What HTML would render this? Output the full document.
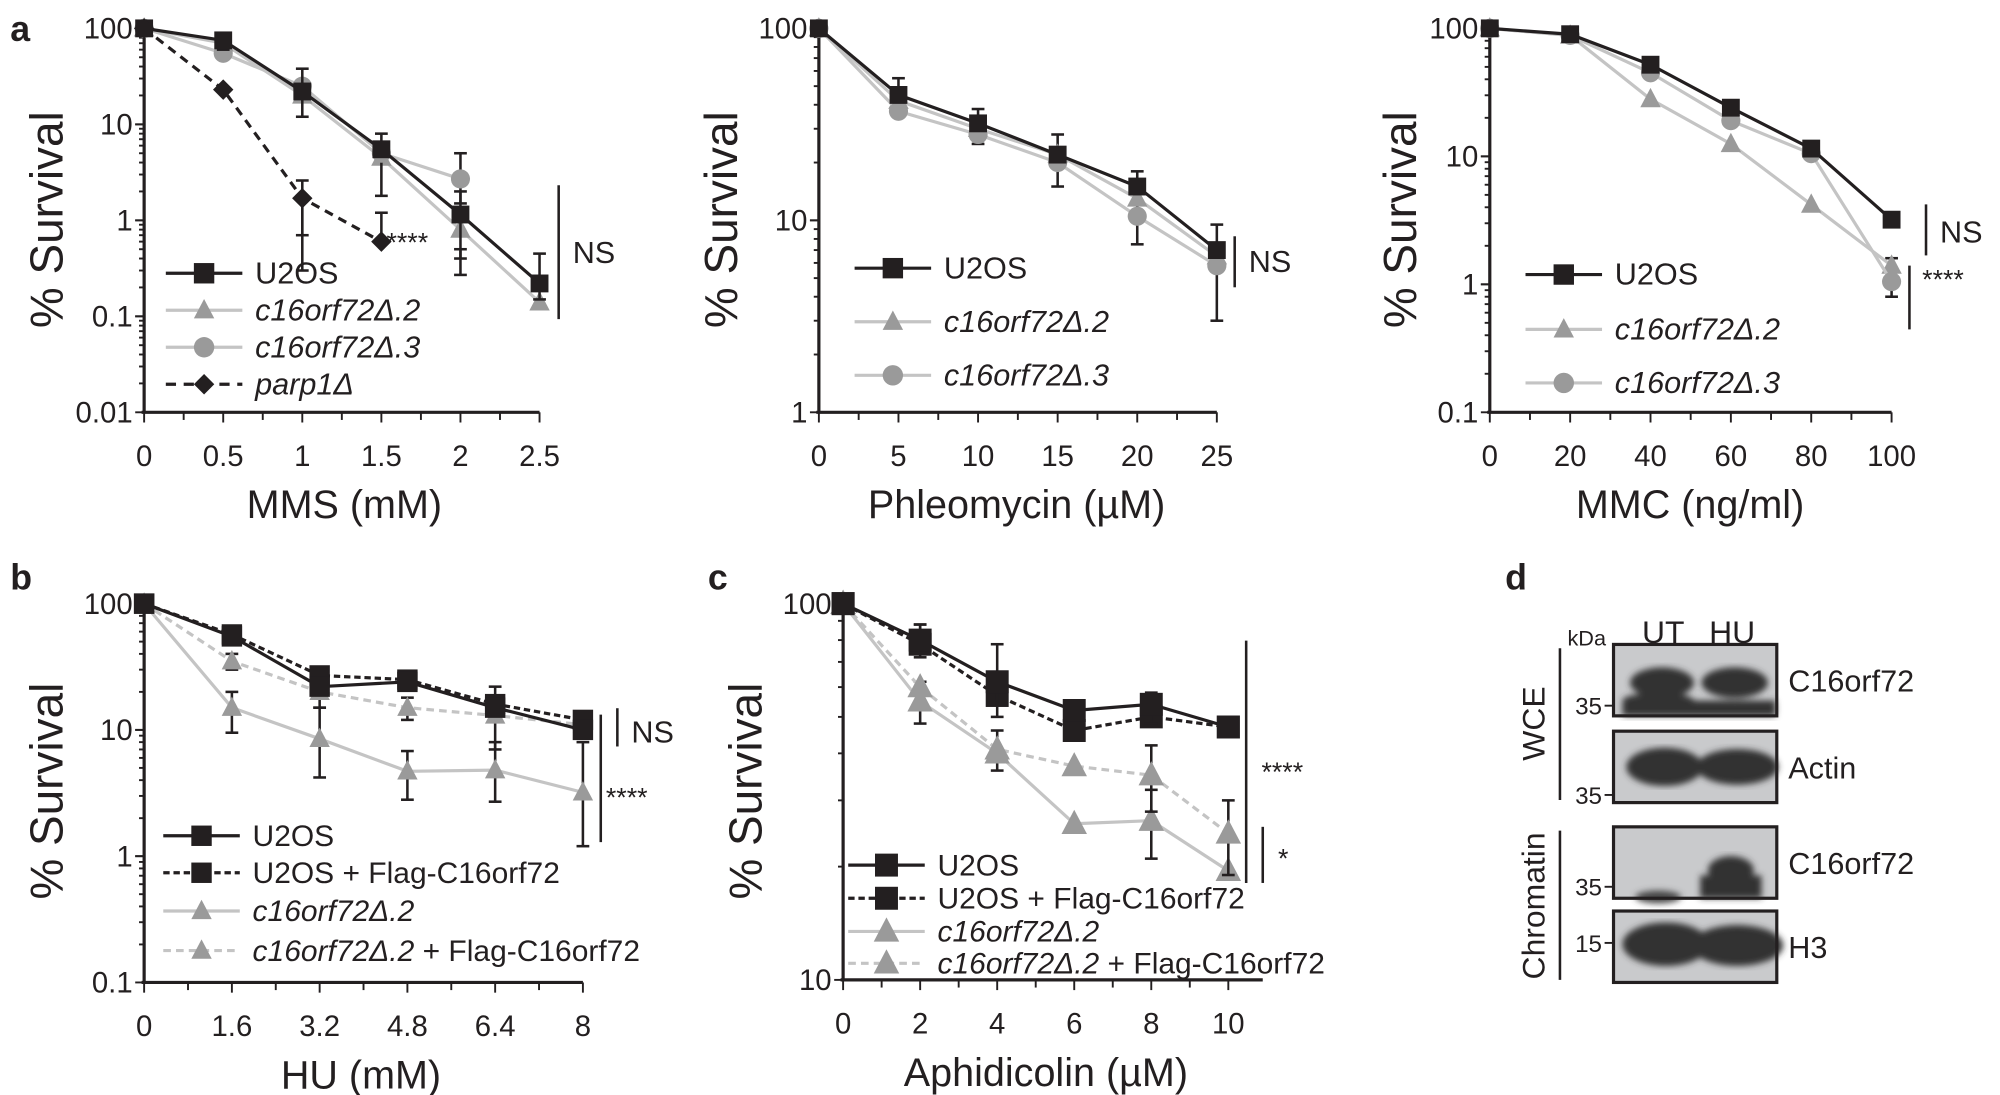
<!DOCTYPE html>
<html><head><meta charset="utf-8"><style>
html,body{margin:0;padding:0;background:#fff;}
svg{display:block;}
text{font-family:"Liberation Sans",Arial,sans-serif;fill:#231f20;}
</style></head><body>
<svg id="s" width="2000" height="1095" viewBox="0 0 1568 858" xmlns="http://www.w3.org/2000/svg"></svg>
<script>
const S=document.getElementById('s');let h='';
const K='#231f20',G='#c4c4c4',GM='#9a9a9a';
function T(x,y,t,o={}){h+=`<text x="${x}" y="${y}" font-size="${o.fs||22}" text-anchor="${o.a||'middle'}" ${o.it?'font-style="italic"':''} ${o.b?'font-weight="bold"':''} ${o.r?`transform="rotate(-90 ${x} ${y})"`:''}>${t}</text>`;}
function L(x1,y1,x2,y2,c,w,d){h+=`<line x1="${x1}" y1="${y1}" x2="${x2}" y2="${y2}" stroke="${c||K}" stroke-width="${w||2}" ${d?`stroke-dasharray="${d}"`:''}/>`;}
function M(x,y,t,c,sz){sz=sz||8;
 if(t=='s')h+=`<rect x="${x-sz}" y="${y-sz}" width="${2*sz}" height="${2*sz}" fill="${c}"/>`;
 else if(t=='t')h+=`<polygon points="${x},${y-sz*1.1} ${x-sz},${y+sz*0.8} ${x+sz},${y+sz*0.8}" fill="${c}"/>`;
 else if(t=='c')h+=`<circle cx="${x}" cy="${y}" r="${sz}" fill="${c}"/>`;
 else h+=`<polygon points="${x},${y-sz} ${x+sz},${y} ${x},${y+sz} ${x-sz},${y}" fill="${c}"/>`;}
function axes(p){
 const dec=(p.ybot-p.ytop)/p.decs;
 L(p.x0,p.ytop-4,p.x0,p.ybot,K,2.5);L(p.x0-2,p.ybot,p.xend,p.ybot,K,2.5);
 for(let d=0;d<p.decs;d++){for(let k=1;k<=10;k++){const y=p.ybot-d*dec-Math.log10(k)*dec;L(p.x0-(k==1||k==10?7:4),y,p.x0,y,K,1.5);}}
 p.ylabels.forEach((t,i)=>T(p.x0-9,p.ytop+i*dec+8,t,{a:'end',fs:23}));
 const n=p.xlabels.length;const st=(p.x1-p.x0)/(n-1);
 for(let i=0;i<n;i++){const x=p.x0+i*st;L(x,p.ybot,x,p.ybot+8,K,1.5);if(i<n-1)L(x+st/2,p.ybot,x+st/2,p.ybot+6,K,1.5);T(x,p.ybot+42,p.xlabels[i],{fs:23});}
 T(p.xtc,p.ybot+83,p.xtitle,{fs:31});T(p.ycx,p.ycy,'% Survival',{fs:36,r:1});
 p.X=i=>p.x0+i*st;p.Y=v=>p.ybot-(Math.log10(v)-p.lmin)*dec;return p;}
function ser(p,vals,c,mt,mc,dash,sz,errs){
 let pts=vals.map((v,i)=>v==null?null:[p.X(i),p.Y(v)]).filter(a=>a);
 if(errs)errs.forEach(e=>{const x=p.X(e[0]);L(x,p.Y(e[1]),x,p.Y(e[2]),K,2);L(x-5,p.Y(e[1]),x+5,p.Y(e[1]),K,2);L(x-5,p.Y(e[2]),x+5,p.Y(e[2]),K,2);});
 h+=`<polyline points="${pts.map(a=>a.join(',')).join(' ')}" fill="none" stroke="${c}" stroke-width="2.5" ${dash?`stroke-dasharray="${dash}"`:''}/>`;
 pts.forEach(a=>M(a[0],a[1],mt,mc,sz));}
function leg(x,y,t,c,mt,mc,dash,it,sz,fs){L(x,y,x+60,y,c,2.5,dash);M(x+30,y,mt,mc,sz);T(x+70,y+8,t,{a:'start',it:it,fs:fs||24});}

// Panel a
let a=axes({x0:113,x1:423,xend:423,ytop:22,ybot:323,decs:4,lmin:-2,ylabels:['100','10','1','0.1','0.01'],xlabels:['0','0.5','1','1.5','2','2.5'],xtc:270,xtitle:'MMS (mM)',ycx:49,ycy:172});
T(8,32,'a',{b:1,fs:28,a:'start'});
ser(a,[100,70,20,4.5,0.8,0.14],G,'t',GM,null,8,[[2,0.3,1.8],[4,0.27,0.5]]);
ser(a,[100,55,25,5,2.7,null],G,'c',GM,null,7.5,[[3,1.8,8],[4,1.5,5]]);
ser(a,[100,75,22,5.5,1.15,0.22],K,'s',K,null,7,[[2,12,38],[1,60,80],[4,0.4,2],[5,0.15,0.45]]);
ser(a,[100,23,1.7,0.6],K,'d',K,'7,5',8,[[2,0.7,2.6],[3,0.6,1.2]]);
T(303,197,'****',{a:'start',fs:21});L(438,145,438,250,K,2);T(449,206,'NS',{a:'start',fs:24});
leg(130,214,'U2OS',K,'s',K);leg(130,243,'c16orf72Δ.2',G,'t',GM,null,1);leg(130,272,'c16orf72Δ.3',G,'c',GM,null,1);leg(130,301,'parp1Δ',K,'d',K,'8,6',1);

// Phleomycin
let p=axes({x0:642,x1:954,xend:954,ytop:22,ybot:323,decs:2,lmin:0,ylabels:['100','10','1'],xlabels:['0','5','10','15','20','25'],xtc:797,xtitle:'Phleomycin (µM)',ycx:578,ycy:172});
ser(p,[100,42,30,22,13,6.5],G,'t',GM,null,8,[[1,35,55],[2,25,38],[3,15,28],[4,7.5,18],[5,3,9.5]]);
ser(p,[100,37,28,20,10.5,5.8],G,'c',GM,null,7.5);
ser(p,[100,45,32,22,15,7],K,'s',K,null,7);
L(968,185,968,225,K,2);T(979,213,'NS',{a:'start',fs:24});
leg(670,210,'U2OS',K,'s',K);leg(670,252,'c16orf72Δ.2',G,'t',GM,null,1);leg(670,294,'c16orf72Δ.3',G,'c',GM,null,1);

// MMC
let m=axes({x0:1168,x1:1483,xend:1483,ytop:22,ybot:323,decs:3,lmin:-1,ylabels:['100','10','1','0.1'],xlabels:['0','20','40','60','80','100'],xtc:1325,xtitle:'MMC (ng/ml)',ycx:1110,ycy:172});
ser(m,[100,88,28,12.5,4.2,1.4],G,'t',GM,null,8,[[5,0.8,1.6]]);
ser(m,[100,88,45,19,10.5,1.05],G,'c',GM,null,7.5);
ser(m,[100,90,52,24,11.5,3.2],K,'s',K,null,7);
L(1510,160,1510,200,K,2);T(1521,190,'NS',{a:'start',fs:24});L(1497,208,1497,258,K,2);T(1507,226,'****',{a:'start',fs:21});
leg(1196,215,'U2OS',K,'s',K);leg(1196,258,'c16orf72Δ.2',G,'t',GM,null,1);leg(1196,300,'c16orf72Δ.3',G,'c',GM,null,1);

// Panel b
let b=axes({x0:113,x1:457,xend:457,ytop:473,ybot:770,decs:3,lmin:-1,ylabels:['100','10','1','0.1'],xlabels:['0','1.6','3.2','4.8','6.4','8'],xtc:283,xtitle:'HU (mM)',ycx:49,ycy:620});
T(8,462,'b',{b:1,fs:28,a:'start'});
ser(b,[100,15,8.5,4.7,4.8,3.2],G,'t',GM,null,8,[[1,9.5,20],[2,4.2,15],[3,2.8,6.8],[4,2.7,8],[5,1.2,8]]);
ser(b,[100,35,20,15,13,11],G,'t',GM,'6,4',8,[[1,30,40],[2,15,26],[3,12,18],[4,7,22]]);
ser(b,[100,57,27,25,16,12],K,'s',K,'5,3',8);
ser(b,[100,55,22,24,15,10],K,'s',K,null,8);
L(484,555,484,585,K,2);T(495,582,'NS',{a:'start',fs:24});L(471,560,471,660,K,2);T(475,632,'****',{a:'start',fs:21});
leg(128,655,'U2OS',K,'s',K,null,0,8,23.5);leg(128,684,'U2OS + Flag-C16orf72',K,'s',K,'5,3',0,8,23.5);leg(128,714,'c16orf72Δ.2',G,'t',GM,null,1,8,23.5);
L(128,745,188,745,G,2.5,'6,4');M(158,745,'t',GM,8);T(198,753,'<tspan font-style="italic">c16orf72Δ.2</tspan> + Flag-C16orf72',{a:'start',fs:23.5});

// Panel c
let c=axes({x0:661,x1:963,xend:990,ytop:473,ybot:768,decs:1,lmin:1,ylabels:['100','10'],xlabels:['0','2','4','6','8','10'],xtc:820,xtitle:'Aphidicolin (µM)',ycx:597,ycy:620});
T(555,462,'c',{b:1,fs:28,a:'start'});
ser(c,[100,55,40,26,26.5,19.5],G,'t',GM,null,10,[[1,48,62],[2,36,46],[4,21,32]]);
ser(c,[100,60,41,37,35,24.5],G,'t',GM,'6,4',10,[[4,28,42],[5,19,30]]);
ser(c,[100,78,57,46,50,47],K,'s',K,'5,3',9,[[1,72,88],[3,44,52]]);
ser(c,[100,80,62,52,54,47],K,'s',K,null,9,[[1,75,88],[2,50,78],[4,48,58]]);
L(977,502,977,692,K,2);T(989,612,'****',{a:'start',fs:21});L(990,648,990,692,K,2);T(1002,680,'*',{a:'start',fs:21});
leg(665,678,'U2OS',K,'s',K,null,0,9,23.5);leg(665,704,'U2OS + Flag-C16orf72',K,'s',K,'5,3',0,9,23.5);leg(665,730,'c16orf72Δ.2',G,'t',GM,null,1,10,23.5);
L(665,755,725,755,G,2.5,'6,4');M(695,755,'t',GM,10);T(735,763,'<tspan font-style="italic">c16orf72Δ.2</tspan> + Flag-C16orf72',{a:'start',fs:23.5});

// Panel d
T(1180,462,'d',{b:1,fs:28,a:'start'});
T(1244,506,'kDa',{a:'middle',fs:17});T(1304,504,'UT',{fs:25});T(1358,504,'HU',{fs:25});
h+=`<defs><filter id="bl"><feGaussianBlur stdDeviation="2.5"/></filter></defs>`;
const BX=1265,BW=128,BH=56;
const boxes=[[505,'C16orf72'],[573,'Actin'],[648,'C16orf72'],[714,'H3']];
boxes.forEach((bx,i)=>{const y=bx[0];h+=`<rect x="${BX}" y="${y}" width="${BW}" height="${BH}" fill="#c9cacc"/>`;
 h+=`<g filter="url(#bl)">`;
 if(i==0){h+=`<ellipse cx="1303" cy="${y+30}" rx="25" ry="12" fill="#333"/><ellipse cx="1360" cy="${y+30}" rx="26" ry="12" fill="#333"/><rect x="1272" y="${y+44}" width="120" height="12" fill="#333"/><ellipse cx="1300" cy="${y+44}" rx="28" ry="6" fill="#333"/>`;}
 if(i==1){h+=`<ellipse cx="1305" cy="${y+28}" rx="30" ry="15" fill="#333"/><ellipse cx="1362" cy="${y+28}" rx="32" ry="14" fill="#333"/>`;}
 if(i==2){h+=`<ellipse cx="1357" cy="${y+34}" rx="18" ry="11" fill="#333"/><rect x="1333" y="${y+38}" width="48" height="18" fill="#333"/><ellipse cx="1300" cy="${y+55}" rx="18" ry="5" fill="#444"/>`;}
 if(i==3){h+=`<ellipse cx="1306" cy="${y+26}" rx="34" ry="17" fill="#333"/><ellipse cx="1362" cy="${y+27}" rx="36" ry="16" fill="#333"/>`;}
 h+=`</g><rect x="${BX}" y="${y}" width="${BW}" height="${BH}" fill="none" stroke="${K}" stroke-width="2.5"/>`;
 T(1402,y+37,bx[1],{a:'start',fs:24});});
[[553,'35'],[623,'35'],[695,'35'],[739,'15']].forEach(q=>{L(1258,q[0],1265,q[0],K,1.5);T(1256,q[0]+7,q[1],{a:'end',fs:19});});
L(1223,508,1223,627,K,2);T(1211,567,'WCE',{fs:25,r:1});L(1223,651,1223,768,K,2);T(1211,710,'Chromatin',{fs:25,r:1});
S.innerHTML=h;
</script>
</body></html>
